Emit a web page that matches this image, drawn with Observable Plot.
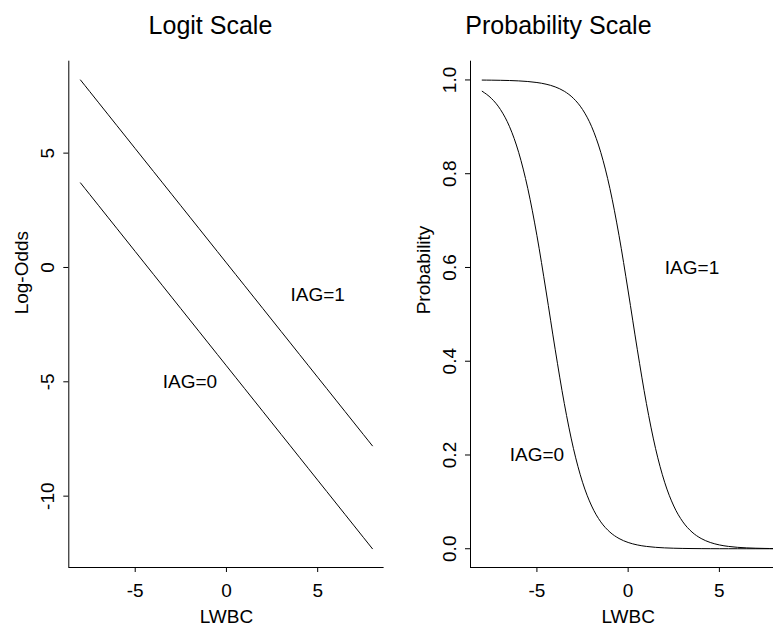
<!DOCTYPE html>
<html>
<head>
<meta charset="utf-8">
<script src="https://cdn.jsdelivr.net/npm/d3@7"></script>
<script src="https://cdn.jsdelivr.net/npm/@observablehq/plot@0.6"></script>
<style>
  html, body { margin: 0; padding: 0; background: #fff; overflow: hidden; }
  #wrap { position: relative; width: 773px; height: 626px; overflow: hidden; background: #fff; }
  #left { position: absolute; left: 0; top: 0; width: 386px; }
  #right { position: absolute; left: 386px; top: 0; width: 400px; }
  svg { display: block; max-width: none !important; }
</style>
</head>
<body>
<div id="wrap"><div id="left"></div><div id="right"></div></div>
<script>
// ---- data ----
const lwbc = [-8, -7.5, -7, -6.5, -6, -5.5, -5, -4.5, -4, -3.5, -3, -2.5, -2, -1.5, -1, -0.5,
  0, 0.5, 1, 1.5, 2, 2.5, 3, 3.5, 4, 4.5, 5, 5.5, 6, 6.5, 7, 7.5, 8];
const logOddsIAG1 = [8.2, 7.7, 7.2, 6.7, 6.2, 5.7, 5.2, 4.7, 4.2, 3.7, 3.2, 2.7, 2.2, 1.7, 1.2, 0.7,
  0.2, -0.3, -0.8, -1.3, -1.8, -2.3, -2.8, -3.3, -3.8, -4.3, -4.8, -5.3, -5.8, -6.3, -6.8, -7.3, -7.8];
const logOddsIAG0 = [3.7, 3.2, 2.7, 2.2, 1.7, 1.2, 0.7, 0.2, -0.3, -0.8, -1.3, -1.8, -2.3, -2.8, -3.3, -3.8,
  -4.3, -4.8, -5.3, -5.8, -6.3, -6.8, -7.3, -7.8, -8.3, -8.8, -9.3, -9.8, -10.3, -10.8, -11.3, -11.8, -12.3];
const groups = ["IAG=0", "IAG=1"];
const panelTitles = ["Logit Scale", "Probability Scale"];
const xLabel = "LWBC";
const yLabels = ["Log-Odds", "Probability"];
const xTicks = [-5, 0, 5];
const logitTicks = [-10, -5, 0, 5];
const probTicks = [0, 0.2, 0.4, 0.6, 0.8, 1.0];
// annotation anchors (data coordinates)
const logitLabelX = [-2, 5];
const logitLabelY = [-5, -1.2];
const probLabelX = [-5, 3.5];
const probLabelY = [0.2, 0.6];

// ---- derived tables ----
const rows = lwbc.flatMap((x, i) => [
  {x, lo: logOddsIAG0[i], g: groups[0]},
  {x, lo: logOddsIAG1[i], g: groups[1]}
]).map(d => ({...d, p: 1 / (1 + Math.exp(-d.lo))}));
const logitLabels = groups.map((g, i) => ({g, x: logitLabelX[i], y: logitLabelY[i]}));
const probLabels = groups.map((g, i) => ({g, x: probLabelX[i], y: probLabelY[i]}));

const rExpand = ([a, b]) => { const d = (b - a) * 0.04; return [a - d, b + d]; };
const xDomain = rExpand(d3.extent(lwbc));
const logitDomain = rExpand(d3.extent(rows, d => d.lo));
const probDomain = rExpand([0, 1]);

const FONT = "'Liberation Sans', Arial, Helvetica, sans-serif";
const style = {fontFamily: FONT, fontSize: "19px", color: "black", background: "white", overflow: "visible", maxWidth: "none"};

function panel({width, marginLeft, marginRight, yKey, yDomain, yTicks, yFormat, labels, title, titleDx, ylab}) {
  return Plot.plot({
    width, height: 626, marginLeft, marginRight, marginTop: 60.7, marginBottom: 59,
    style,
    x: {domain: xDomain, label: null},
    y: {domain: yDomain, label: null},
    marks: [
      Plot.axisX(xTicks, {tickSize: 5, tickPadding: 11, tickFormat: d => String(d), label: null, fontSize: 19}),
      Plot.axisY(yTicks, {tickSize: 5, tickPadding: 10, tickRotate: -90, tickFormat: yFormat, label: null, fontSize: 19}),
      Plot.ruleX([xDomain[0]], {stroke: "black", strokeWidth: 1}),
      Plot.ruleY([yDomain[0]], {stroke: "black", strokeWidth: 1}),
      Plot.line(rows, {x: "x", y: yKey, z: "g", stroke: "black", strokeWidth: 1, curve: "monotone-x"}),
      Plot.text(labels, {x: "x", y: "y", text: "g", fill: "black", fontSize: 19}),
      Plot.text([title], {text: d => d, frameAnchor: "top", lineAnchor: "bottom", dy: -27.4, dx: titleDx, fontSize: 25, fill: "black"}),
      Plot.text([xLabel], {text: d => d, frameAnchor: "bottom", lineAnchor: "bottom", dy: 55, fontSize: 19, fill: "black"}),
      Plot.text([ylab], {text: d => d, frameAnchor: "left", rotate: -90, lineAnchor: "bottom", dx: -41, fontSize: 19, fill: "black"})
    ]
  });
}

document.getElementById("left").append(panel({
  width: 386, marginLeft: 68.3, marginRight: 2.4,
  yKey: "lo", yDomain: logitDomain, yTicks: logitTicks, yFormat: d => String(d),
  labels: logitLabels, title: panelTitles[0], titleDx: -16, ylab: yLabels[0]
}));
document.getElementById("right").append(panel({
  width: 400, marginLeft: 84, marginRight: 0.7,
  yKey: "p", yDomain: probDomain, yTicks: probTicks, yFormat: d => d.toFixed(1),
  labels: probLabels, title: panelTitles[1], titleDx: -69.7, ylab: yLabels[1]
}));
</script>
</body>
</html>
